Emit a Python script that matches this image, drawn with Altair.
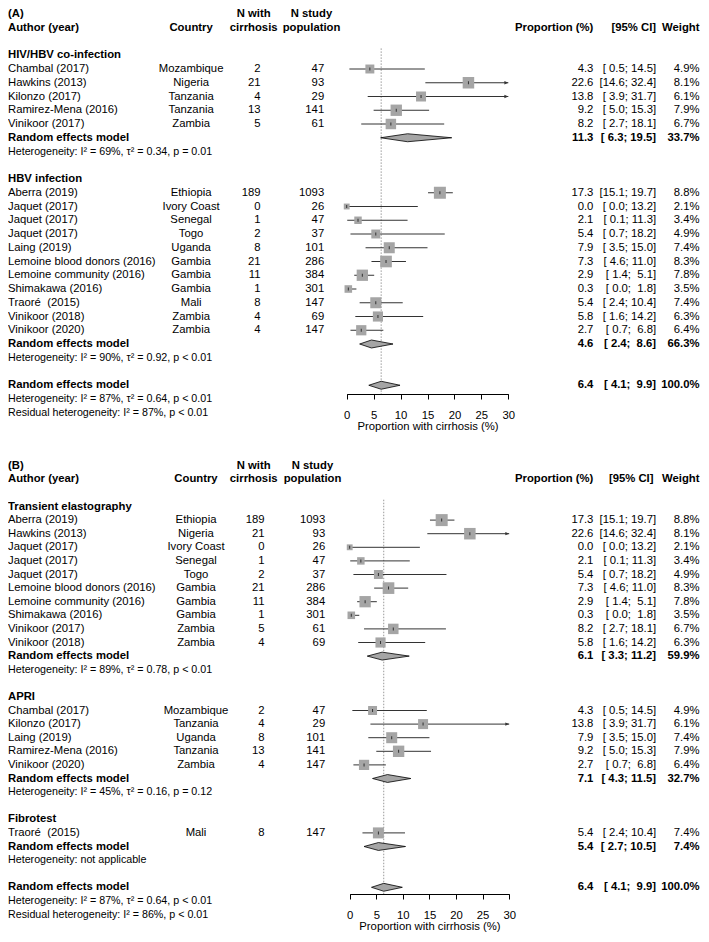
import altair as alt
import pandas as pd

FONT = "Liberation Sans"
FS = 11.3
FS_HET = 10.7
NB = "\u00a0"

# ---------------- Panel A data ----------------
A_label = "(A)"
A_groups = ["HIV/HBV co-infection", "HBV infection"]
A_group_sizes = [5, 11]
A_author = ["Chambal (2017)", "Hawkins (2013)", "Kilonzo (2017)", "Ramirez-Mena (2016)", "Vinikoor (2017)",
            "Aberra (2019)", "Jaquet (2017)", "Jaquet (2017)", "Jaquet (2017)", "Laing (2019)",
            "Lemoine blood donors (2016)", "Lemoine community (2016)", "Shimakawa (2016)",
            "Traoré" + NB + " (2015)", "Vinikoor (2018)", "Vinikoor (2020)"]
A_country = ["Mozambique", "Nigeria", "Tanzania", "Tanzania", "Zambia",
             "Ethiopia", "Ivory Coast", "Senegal", "Togo", "Uganda",
             "Gambia", "Gambia", "Gambia", "Mali", "Zambia", "Zambia"]
A_ncirr = [2, 21, 4, 13, 5, 189, 0, 1, 2, 8, 21, 11, 1, 8, 4, 4]
A_nstudy = [47, 93, 29, 141, 61, 1093, 26, 47, 37, 101, 286, 384, 301, 147, 69, 147]
A_prop = [4.3, 22.6, 13.8, 9.2, 8.2, 17.3, 0.0, 2.1, 5.4, 7.9, 7.3, 2.9, 0.3, 5.4, 5.8, 2.7]
A_lo = [0.5, 14.6, 3.9, 5.0, 2.7, 15.1, 0.0, 0.1, 0.7, 3.5, 4.6, 1.4, 0.0, 2.4, 1.6, 0.7]
A_hi = [14.5, 32.4, 31.7, 15.3, 18.1, 19.7, 13.2, 11.3, 18.2, 15.0, 11.0, 5.1, 1.8, 10.4, 14.2, 6.8]
A_weight = [4.9, 8.1, 6.1, 7.9, 6.7, 8.8, 2.1, 3.4, 4.9, 7.4, 8.3, 7.8, 3.5, 7.4, 6.3, 6.4]
A_sub_prop = [11.3, 4.6]
A_sub_lo = [6.3, 2.4]
A_sub_hi = [19.5, 8.6]
A_sub_weight = [33.7, 66.3]
A_sub_het = ["Heterogeneity: I² = 69%, τ² = 0.34, p = 0.01",
             "Heterogeneity: I² = 90%, τ² = 0.92, p < 0.01"]
A_overall = [6.4, 4.1, 9.9, 100.0]
A_overall_het = ["Heterogeneity: I² = 87%, τ² = 0.64, p < 0.01",
                 "Residual heterogeneity: I² = 87%, p < 0.01"]

# ---------------- Panel B data ----------------
B_label = "(B)"
B_groups = ["Transient elastography", "APRI", "Fibrotest"]
B_group_sizes = [10, 5, 1]
B_author = ["Aberra (2019)", "Hawkins (2013)", "Jaquet (2017)", "Jaquet (2017)", "Jaquet (2017)",
            "Lemoine blood donors (2016)", "Lemoine community (2016)", "Shimakawa (2016)",
            "Vinikoor (2017)", "Vinikoor (2018)",
            "Chambal (2017)", "Kilonzo (2017)", "Laing (2019)", "Ramirez-Mena (2016)", "Vinikoor (2020)",
            "Traoré" + NB + " (2015)"]
B_country = ["Ethiopia", "Nigeria", "Ivory Coast", "Senegal", "Togo", "Gambia", "Gambia", "Gambia",
             "Zambia", "Zambia", "Mozambique", "Tanzania", "Uganda", "Tanzania", "Zambia", "Mali"]
B_ncirr = [189, 21, 0, 1, 2, 21, 11, 1, 5, 4, 2, 4, 8, 13, 4, 8]
B_nstudy = [1093, 93, 26, 47, 37, 286, 384, 301, 61, 69, 47, 29, 101, 141, 147, 147]
B_prop = [17.3, 22.6, 0.0, 2.1, 5.4, 7.3, 2.9, 0.3, 8.2, 5.8, 4.3, 13.8, 7.9, 9.2, 2.7, 5.4]
B_lo = [15.1, 14.6, 0.0, 0.1, 0.7, 4.6, 1.4, 0.0, 2.7, 1.6, 0.5, 3.9, 3.5, 5.0, 0.7, 2.4]
B_hi = [19.7, 32.4, 13.2, 11.3, 18.2, 11.0, 5.1, 1.8, 18.1, 14.2, 14.5, 31.7, 15.0, 15.3, 6.8, 10.4]
B_weight = [8.8, 8.1, 2.1, 3.4, 4.9, 8.3, 7.8, 3.5, 6.7, 6.3, 4.9, 6.1, 7.4, 7.9, 6.4, 7.4]
B_sub_prop = [6.1, 7.1, 5.4]
B_sub_lo = [3.3, 4.3, 2.7]
B_sub_hi = [11.2, 11.5, 10.5]
B_sub_weight = [59.9, 32.7, 7.4]
B_sub_het = ["Heterogeneity: I² = 89%, τ² = 0.78, p < 0.01",
             "Heterogeneity: I² = 45%, τ² = 0.16, p = 0.12",
             "Heterogeneity: not applicable"]
B_overall = [6.4, 4.1, 9.9, 100.0]
B_overall_het = ["Heterogeneity: I² = 87%, τ² = 0.64, p < 0.01",
                 "Residual heterogeneity: I² = 86%, p < 0.01"]

# header texts
HDR_TOP = ["N with", "N study"]
HDR_BOT = ["Author (year)", "Country", "cirrhosis", "population", "Proportion (%)", "[95% CI]", "Weight"]
X_TICKS = [0, 5, 10, 15, 20, 25, 30]
X_TITLE = "Proportion with cirrhosis (%)"
REM = "Random effects model"

SQ_COL = "#A5A5A5"
LINE_COL = "#333333"


def ci_text(lo, hi):
    return ("[" + f"{lo:4.1f}" + "; " + f"{hi:4.1f}" + "]").replace(" ", NB)


def build_panel(label, groups, sizes, author, country, ncirr, nstudy, prop, lo, hi, weight,
                sub_prop, sub_lo, sub_hi, sub_w, sub_het, overall, overall_het, g):
    rows = []
    dia = []
    k = 3
    i = 0

    def add_rem(kk, p, l, h, w, did):
        rows.append(dict(k=kk, kind="rem", author=REM, prop_t=f"{p:.1f}",
                         ci_t=ci_text(l, h), w_t=f"{w:.1f}%"))
        dia.extend([dict(id=did, x=l, yt=kk, yb=kk),
                    dict(id=did, x=p, yt=kk - 0.29, yb=kk + 0.29),
                    dict(id=did, x=h, yt=kk, yb=kk)])

    for gi, name in enumerate(groups):
        rows.append(dict(k=k, kind="title", author=name))
        k += 1
        for _ in range(sizes[gi]):
            rows.append(dict(k=k, kind="study", author=author[i], country=country[i],
                             ncirr=str(ncirr[i]), nstudy=str(nstudy[i]),
                             est=prop[i], lo=lo[i], hi=hi[i], hi_c=min(hi[i], 30.0),
                             arrow=bool(hi[i] > 30), weight=weight[i],
                             prop_t=f"{prop[i]:.1f}", ci_t=ci_text(lo[i], hi[i]),
                             w_t=f"{weight[i]:.1f}%"))
            i += 1
            k += 1
        add_rem(k, sub_prop[gi], sub_lo[gi], sub_hi[gi], sub_w[gi], f"g{gi}")
        k += 1
        rows.append(dict(k=k, kind="het", author=sub_het[gi]))
        k += 2
    add_rem(k, overall[0], overall[1], overall[2], overall[3], "all")
    rows.append(dict(k=k + 1, kind="het", author=overall_het[0]))
    rows.append(dict(k=k + 2, kind="het", author=overall_het[1]))

    df = pd.DataFrame(rows)
    ddf = pd.DataFrame(dia)
    hdr = pd.DataFrame([
        dict(k=0, t=label, col="lab"),
        dict(k=0, t=HDR_TOP[0], col="nc"),
        dict(k=0, t=HDR_TOP[1], col="ns"),
        dict(k=1, t=HDR_BOT[0], col="lab"),
        dict(k=1, t=HDR_BOT[1], col="cty"),
        dict(k=1, t=HDR_BOT[2], col="nc"),
        dict(k=1, t=HDR_BOT[3], col="ns"),
        dict(k=1, t=HDR_BOT[4], col="pr"),
        dict(k=1, t=HDR_BOT[5], col="ci"),
        dict(k=1, t=HDR_BOT[6], col="w"),
    ])
    ref = pd.DataFrame({"x": [overall[0]], "k": [2.5]})

    yscale = alt.Scale(domain=[0, g["kmax"]], range=[g["y0"], g["y0"] + g["dy"] * g["kmax"]],
                       nice=False, zero=False)
    xscale = alt.Scale(domain=[0, 30], range=[g["x0"], g["x30"]], nice=False, zero=False)
    xaxis = alt.Axis(values=X_TICKS, format="d", title=X_TITLE, grid=False, tickSize=5,
                     tickColor="black", domainColor="black", domainWidth=1, tickWidth=1,
                     labelFont=FONT, labelFontSize=FS, labelColor="black", labelPadding=10,
                     titleFont=FONT, titleFontSize=FS, titleFontWeight="normal",
                     titleColor="black", titlePadding=0, labelFlush=False)
    Y = lambda f="k": alt.Y(f"{f}:Q", scale=yscale, axis=None)
    X = lambda f: alt.X(f"{f}:Q", scale=xscale, axis=xaxis)

    layers = []
    layers.append(alt.Chart(ref).mark_rule(color="#808080", strokeWidth=0.8, strokeDash=[1.5, 1.5])
                  .encode(x=X("x"), y=Y(), y2=alt.value(g["H"])))
    study = alt.Chart(df).transform_filter(alt.datum.kind == "study")
    layers.append(study.mark_rule(color=LINE_COL, strokeWidth=1)
                  .encode(x=X("lo"), x2="hi_c:Q", y=Y()))
    layers.append(study.transform_filter(alt.datum.arrow == True)
                  .mark_point(shape="M0,0L-1.3,-0.55L-1.3,0.55Z", filled=True, size=36,
                              color=LINE_COL, opacity=1, strokeWidth=0)
                  .encode(x=X("hi_c"), y=Y()))
    layers.append(study.mark_point(shape="square", filled=True, color=SQ_COL, opacity=1, strokeWidth=0)
                  .encode(x=X("est"), y=Y(),
                          size=alt.Size("weight:Q", scale=alt.Scale(domain=[0, 8.8], range=[0, 144]),
                                        legend=None)))
    layers.append(study.mark_tick(orient="vertical", color="black", size=3, thickness=1)
                  .encode(x=X("est"), y=Y()))
    layers.append(alt.Chart(ddf).mark_area(orient="vertical", fill=SQ_COL, stroke="black",
                                           strokeWidth=0.8, opacity=1, fillOpacity=1)
                  .encode(x=X("x"), y=Y("yt"), y2="yb:Q", detail="id:N"))

    def txt(data, field, x, align, bold=False, size=FS, kinds=None, cols=None):
        c = alt.Chart(data)
        if kinds is not None:
            c = c.transform_filter(alt.FieldOneOfPredicate(field="kind", oneOf=kinds))
        if cols is not None:
            c = c.transform_filter(alt.FieldOneOfPredicate(field="col", oneOf=cols))
        return c.mark_text(align=align, baseline="middle", font=FONT, fontSize=size,
                           fontWeight="bold" if bold else "normal", color="black").encode(
            x=alt.value(x), y=Y(), text=alt.Text(f"{field}:N"))

    # body text
    layers.append(txt(df, "author", 0, "left", kinds=["study"]))
    layers.append(txt(df, "author", 0, "left", bold=True, kinds=["title", "rem"]))
    layers.append(txt(df, "author", 0, "left", size=FS_HET, kinds=["het"]))
    layers.append(txt(df, "country", g["cty"], "center", kinds=["study"]))
    layers.append(txt(df, "ncirr", g["nc"], "right", kinds=["study"]))
    layers.append(txt(df, "nstudy", g["ns"], "right", kinds=["study"]))
    for f, xx in (("prop_t", g["pr"]), ("ci_t", g["ci"]), ("w_t", g["w"])):
        layers.append(txt(df, f, xx, "right", kinds=["study"]))
        layers.append(txt(df, f, xx, "right", bold=True, kinds=["rem"]))
    # header text
    layers.append(txt(hdr, "t", 0, "left", bold=True, cols=["lab"]))
    layers.append(txt(hdr, "t", g["hcty"], "center", bold=True, cols=["cty"]))
    layers.append(txt(hdr, "t", g["hnc"], "center", bold=True, cols=["nc"]))
    layers.append(txt(hdr, "t", g["hns"], "center", bold=True, cols=["ns"]))
    layers.append(txt(hdr, "t", g["pr"], "right", bold=True, cols=["pr"]))
    layers.append(txt(hdr, "t", g["hci"], "right", bold=True, cols=["ci"]))
    layers.append(txt(hdr, "t", g["w"], "right", bold=True, cols=["w"]))

    return alt.layer(*layers).properties(width=692, height=g["H"])


geomA = dict(kmax=29, y0=6.0, dy=13.75, H=386, x0=338.7, x30=500.3,
             cty=183.1, nc=252.6, ns=316.2, pr=585.4, ci=648.1, w=691.5,
             hcty=183.1, hnc=245.7, hns=303.5, hci=648.1)
geomB = dict(kmax=33, y0=7.7, dy=13.6, H=436, x0=341.7, x30=501.2,
             cty=188.0, nc=256.5, ns=317.2, pr=585.4, ci=648.1, w=691.5,
             hcty=188.0, hnc=245.7, hns=304.5, hci=645.5)

panelA = build_panel(A_label, A_groups, A_group_sizes, A_author, A_country, A_ncirr, A_nstudy,
                     A_prop, A_lo, A_hi, A_weight, A_sub_prop, A_sub_lo, A_sub_hi, A_sub_weight,
                     A_sub_het, A_overall, A_overall_het, geomA)
panelB = build_panel(B_label, B_groups, B_group_sizes, B_author, B_country, B_ncirr, B_nstudy,
                     B_prop, B_lo, B_hi, B_weight, B_sub_prop, B_sub_lo, B_sub_hi, B_sub_weight,
                     B_sub_het, B_overall, B_overall_het, geomB)

chart = (alt.vconcat(panelA, panelB, spacing=64, bounds="flush")
         .properties(padding=0)
         .configure_view(stroke=None))

chart.save("out.html", embed_options={"renderer": "svg", "actions": False})
